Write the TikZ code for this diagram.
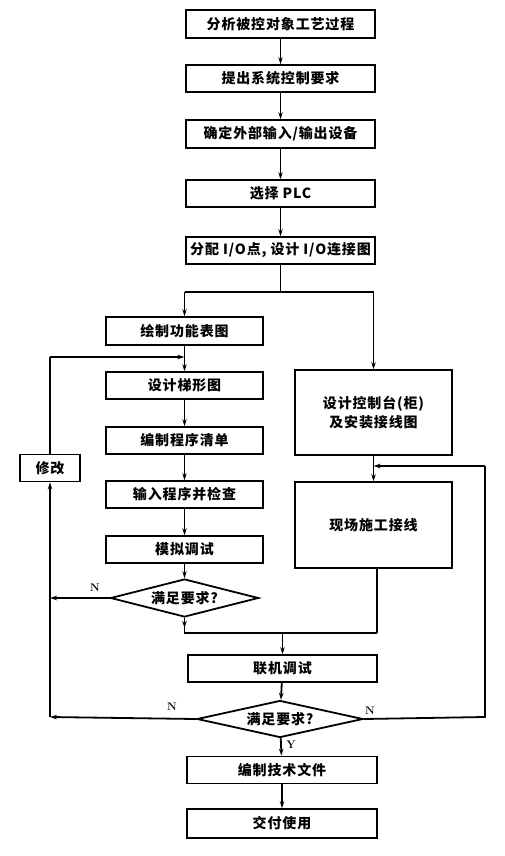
\documentclass[tikz,border=0pt]{standalone}
\usepackage{fontspec}
\newfontfamily\cjk[LetterSpace=6]{Noto Sans CJK SC}
\usetikzlibrary{shapes.geometric,arrows.meta}
\begin{document}
\begin{tikzpicture}[x=1pt,y=-1pt,
  every node/.style={font=\cjk\bfseries\fontsize{14}{16}\selectfont},
  box/.style={draw,line width=1.8pt,inner sep=0pt,minimum height=27pt},
  wbox/.style={box,minimum width=189pt},
  lbox/.style={box,minimum width=157pt},
  dia/.style={draw,line width=1.8pt,diamond,aspect=4,inner sep=0pt},
  lbl/.style={font=\bfseries\fontsize{11}{12}\selectfont},
  ln/.style={line width=1.8pt},
  arr/.style={ln,-{Stealth[length=7pt,width=4.5pt]}}]
\useasboundingbox (0,0) rectangle (505,856);
\node[wbox,minimum height=28pt] (b1) at (280.5,24) {分析被控对象工艺过程};
\node[wbox] (b2) at (280.5,78.5) {提出系统控制要求};
\node[wbox,minimum height=28pt] (b3) at (280.5,134) {确定外部输入/输出设备};
\node[wbox] (b4) at (280.5,193.5) {选择 PLC};
\node[wbox] (b5) at (280.5,250.5) {分配 I/O点, 设计 I/O连接图};
\node[lbox,minimum height=28pt] (l1) at (184.5,331) {绘制功能表图};
\node[lbox] (l2) at (184.5,385.5) {设计梯形图};
\node[lbox] (l3) at (184.5,440.5) {编制程序清单};
\node[lbox] (l4) at (184.5,494.5) {输入程序并检查};
\node[lbox] (l5) at (184.5,549.5) {模拟调试};
\node[dia,minimum width=148pt,minimum height=38pt] (d1) at (184.5,598) {满足要求?};
\node[lbox,minimum height=85pt,align=center] (r1) at (373.5,412.5) {设计控制台(柜)\\[3pt]及安装接线图};
\node[lbox,minimum height=86pt] (r2) at (373.5,525) {现场施工接线};
\node[box,minimum width=60pt] (xg) at (50,468) {修改};
\node[wbox] (m) at (282.5,668.5) {联机调试};
\node[dia,minimum width=166pt,minimum height=37pt] (d2) at (280,719) {满足要求?};
\node[wbox,minimum width=190pt] (e1) at (282,770) {编制技术文件};
\node[wbox,minimum width=190pt,minimum height=29pt] (e2) at (282,823.5) {交付使用};
\coordinate (split) at (280.5,292);
\coordinate (sl) at (184.5,292);
\coordinate (sr) at (373.5,292);
\coordinate (fbt) at (50,357);
\coordinate (fbe) at (184.5,357);
\coordinate (j1) at (184.5,633);
\coordinate (j2) at (377,633);
\coordinate (jm) at (282.5,633);
\coordinate (nl1) at (50,598);
\coordinate (nl2) at (50,717);
\coordinate (nr1) at (485,717);
\coordinate (nr2) at (485,466);
\coordinate (nr3) at (373.5,466);
\draw[arr] (b1) -- (b2);
\draw[arr] (b2) -- (b3);
\draw[arr] (b3) -- (b4);
\draw[arr] (b4) -- (b5);
\draw[ln] (b5) -- (split);
\draw[ln] (sl) -- (sr);
\draw[arr] (sl) -- (l1);
\draw[arr] (sr) -- (r1);
\draw[arr] (l1) -- (l2);
\draw[arr] (l2) -- (l3);
\draw[arr] (l3) -- (l4);
\draw[arr] (l4) -- (l5);
\draw[arr] (l5) -- (d1);
\draw[arr] (r1) -- (r2);
\draw[arr] (d1.west) -- (nl1);
\draw[ln] (d1.south) -- (j1) -- (j2);
\draw[arr] (d1.south) -- ++(0,10);
\draw[ln] ([xshift=3.5pt]r2.south) -- (j2);
\draw[arr] (jm) -- (m);
\draw[arr] (m) -- (d2);
\draw[arr] (d2.west) -- (nl2);
\draw[arr] (nl2) -- (xg);
\draw[ln] (xg) -- (fbt);
\draw[arr] (fbt) -- (fbe);
\draw[ln] (d2.east) -- (nr1) -- (nr2);
\draw[arr] (nr2) -- (nr3);
\draw[arr] (d2) -- (e1);
\draw[arr] (e1) -- (e2);
\node[lbl] (n1) at (95,588) {N};
\node[lbl] (n2) at (172,707) {N};
\node[lbl] (n3) at (370,711) {N};
\node[lbl] (y1) at (291,745) {Y};
\end{tikzpicture}
\end{document}
